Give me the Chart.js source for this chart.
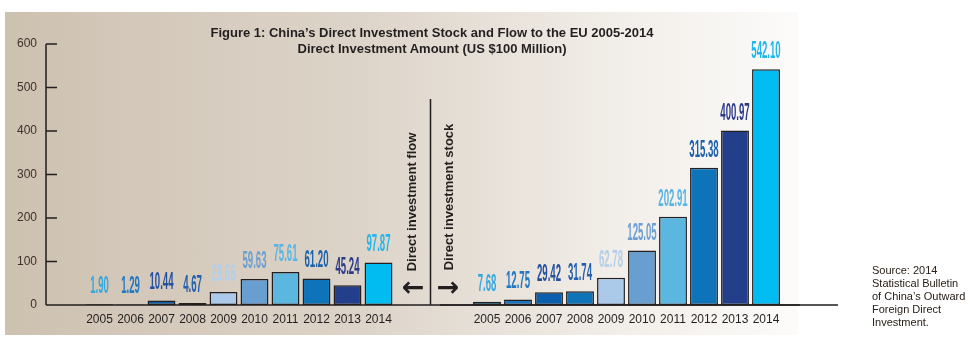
<!DOCTYPE html>
<html><head><meta charset="utf-8">
<script src="https://cdn.jsdelivr.net/npm/chart.js@4/dist/chart.umd.min.js"></script>
<style>
html,body{margin:0;padding:0;background:#fff;width:977px;height:344px;overflow:hidden;font-family:"Liberation Sans",Arial,sans-serif;}
#panel{position:absolute;left:5px;top:12px;width:793px;height:323px;background:linear-gradient(to right,#cdc1b0 0%,#ddd4c9 45%,#f2eee9 78%,#fcfbfa 100%);}
#cA{position:absolute;left:0;top:0;}
#cB{position:absolute;left:440px;top:0;}
#title{position:absolute;left:132px;width:600px;top:25px;text-align:center;font-weight:bold;font-size:13px;line-height:16px;color:#231f20;white-space:nowrap;}
.rot{position:absolute;transform:translate(-50%,-50%) rotate(-90deg);white-space:nowrap;font-weight:bold;font-size:13px;color:#231f20;}
.arr{position:absolute;transform:translate(-50%,-50%);font-family:"DejaVu Sans";font-weight:bold;font-size:27px;color:#231f20;line-height:27px;}
#src{position:absolute;left:872px;top:264px;font-size:11px;line-height:13px;color:#2a2018;}
</style>
</head><body>
<div id="panel"></div>
<canvas id="cA" width="977" height="344"></canvas>
<canvas id="cB" width="360" height="344"></canvas>
<div id="title">Figure 1: China’s Direct Investment Stock and Flow to the EU 2005-2014<br>Direct Investment Amount (US $100 Million)</div>
<div class="rot" style="left:411px;top:202px;">Direct investment flow</div>
<div class="rot" style="left:448px;top:197px;">Direct investment stock</div>
<div class="arr" style="left:413px;top:286px;">←</div>
<div class="arr" style="left:448px;top:286px;">→</div>
<div id="src">Source: 2014<br>Statistical Bulletin<br>of China’s Outward<br>Foreign Direct<br>Investment.</div>
<script>
const years = ['2005','2006','2007','2008','2009','2010','2011','2012','2013','2014'];
const flowValues = [1.90, 1.29, 10.44, 4.67, 29.66, 59.63, 75.61, 61.20, 45.24, 97.87];
const stockValues = [7.68, 12.75, 29.42, 31.74, 62.78, 125.05, 202.91, 315.38, 400.97, 542.10];
const yTicks = [0, 100, 200, 300, 400, 500, 600];

const barColors = ['#00aeef','#1b75bc','#0b5eab','#0f73b8','#abcaea','#689fd0','#5bb7e0','#0e73b8','#233f8b','#00bcf1'];
const labelColors = ['#35a8e0','#2279c2','#24509f','#2560ae','#b3cfe9','#6d9fd3','#5ab5e2','#1c62ab','#2b3b8a','#22b6ea'];
const INK = '#231f20';

const valueLabels = {
  id: 'valueLabels',
  afterDatasetsDraw(chart) {
    const ctx = chart.ctx;
    const meta = chart.getDatasetMeta(0);
    const data = chart.data.datasets[0].data;
    meta.data.forEach((bar, i) => {
      ctx.save();
      ctx.translate(bar.x, bar.y - 11);
      ctx.scale(0.4, 1);
      ctx.font = 'bold 24px "Liberation Sans"';
      ctx.textAlign = 'center';
      ctx.textBaseline = 'alphabetic';
      ctx.fillStyle = labelColors[i];
      ctx.fillText(data[i].toFixed(2), 0, 0);
      ctx.restore();
    });
  }
};

const axesA = {
  id: 'axesA',
  afterDatasetsDraw(chart) {
    const ctx = chart.ctx, y = chart.scales.y;
    const y0 = y.getPixelForValue(0), yTop = y.getPixelForValue(600);
    ctx.save();
    ctx.strokeStyle = INK; ctx.lineWidth = 1.5;
    ctx.beginPath();
    ctx.moveTo(46, yTop); ctx.lineTo(46, y0);
    yTicks.forEach(v => { const p = y.getPixelForValue(v); ctx.moveTo(46, p); ctx.lineTo(57, p); });
    ctx.moveTo(46, y0); ctx.lineTo(838, y0);
    ctx.moveTo(430.5, 99); ctx.lineTo(430.5, y0);
    ctx.stroke();
    ctx.restore();
  }
};
const axesB = {
  id: 'axesB',
  afterDatasetsDraw(chart) {
    const ctx = chart.ctx, y = chart.scales.y;
    const y0 = y.getPixelForValue(0);
    ctx.save();
    ctx.strokeStyle = INK; ctx.lineWidth = 1.5;
    ctx.beginPath(); ctx.moveTo(0, y0); ctx.lineTo(398, y0); ctx.stroke();
    ctx.restore();
  }
};

function makeOpts(padLeft, padRight, showY) {
  return {
    responsive: false, animation: false, devicePixelRatio: 1,
    layout: { padding: { top: 44, left: padLeft, right: padRight, bottom: 0 } },
    plugins: { legend: { display: false }, tooltip: { enabled: false }, title: { display: false } },
    scales: {
      x: {
        type: 'category', grid: { display: false, drawTicks: false }, border: { display: false },
        ticks: { color: INK, font: { size: 12, family: 'Liberation Sans' }, padding: 7, maxRotation: 0, autoSkip: false },
        afterFit(s) { s.height = 39; s.paddingLeft = 0; s.paddingRight = 0; }
      },
      y: {
        display: showY, min: 0, max: 600,
        afterBuildTicks(s) { s.ticks = yTicks.map(v => ({ value: v })); },
        grid: { display: false, drawTicks: false }, border: { display: false },
        ticks: { padding: 47, color: '#3e302b', font: { size: 12, family: 'Liberation Sans' } },
        afterFit(s) { s.width = showY ? 84 : 0; s.paddingTop = 0; s.paddingBottom = 0; }
      }
    }
  };
}

function dataset(values) {
  return {
    data: values, backgroundColor: barColors, borderColor: INK, borderWidth: 1.5,
    borderSkipped: false, categoryPercentage: 0.9, barPercentage: 1.0
  };
}

new Chart(document.getElementById('cA'), {
  type: 'bar',
  data: { labels: years, datasets: [dataset(flowValues)] },
  options: makeOpts(0, 583, true),
  plugins: [axesA, valueLabels]
});
new Chart(document.getElementById('cB'), {
  type: 'bar',
  data: { labels: years, datasets: [dataset(stockValues)] },
  options: makeOpts(31.5, 18.5, false),
  plugins: [axesB, valueLabels]
});
</script>
</body></html>
